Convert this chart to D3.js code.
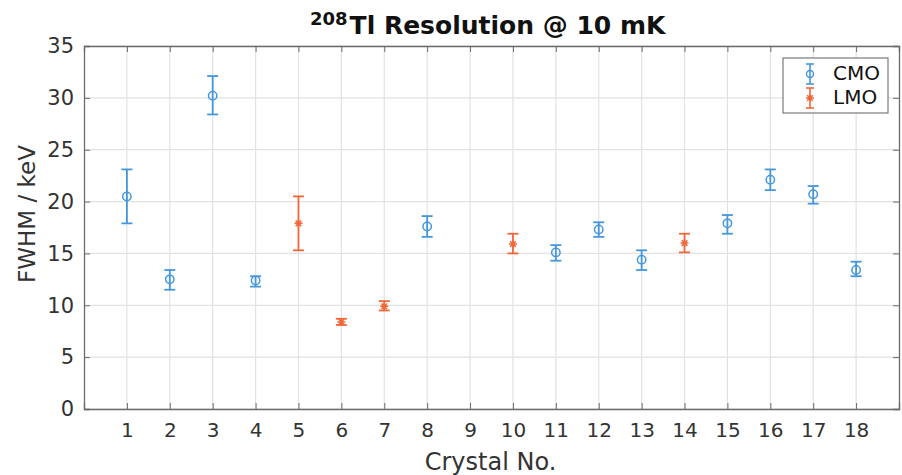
<!DOCTYPE html>
<html><head><meta charset="utf-8">
<script src="https://cdn.jsdelivr.net/npm/d3@7"></script>
<style>body{margin:0;background:#fff}text{font-family:"DejaVu Sans",sans-serif}</style>
</head><body><svg id="c" width="902" height="475"></svg>
<script>
const cmoCrystal = [1, 2, 3, 4, 8, 11, 12, 13, 15, 16, 17, 18];
const cmoFwhm    = [20.5, 12.5, 30.2, 12.4, 17.6, 15.1, 17.3, 14.4, 17.9, 22.1, 20.7, 13.4];
const cmoLow     = [17.9, 11.5, 28.4, 11.8, 16.6, 14.3, 16.6, 13.4, 16.9, 21.1, 19.8, 12.8];
const cmoHigh    = [23.1, 13.4, 32.1, 12.8, 18.6, 15.8, 18.0, 15.3, 18.7, 23.1, 21.5, 14.2];
const lmoCrystal = [5, 6, 7, 10, 14];
const lmoFwhm    = [17.9, 8.4, 9.9, 15.9, 16.0];
const lmoLow     = [15.3, 8.1, 9.5, 15.0, 15.1];
const lmoHigh    = [20.5, 8.7, 10.4, 16.9, 16.9];
const xTicks = d3.range(1, 19);
const yTicks = [0, 5, 10, 15, 20, 25, 30, 35];
const colCMO = "#4597dc", colLMO = "#f0683a";

const svg = d3.select("#c");
const L = 84, R = 899, T = 46, B = 409;
const x = d3.scaleLinear().domain([0, 19]).range([L, R]);
const y = d3.scaleLinear().domain([0, 35]).range([B, T]);

// grid
const g = svg.append("g");
g.selectAll(".gx").data(xTicks).enter().append("line")
  .attr("x1", d => x(d)).attr("x2", d => x(d)).attr("y1", T).attr("y2", B)
  .attr("stroke", "#e2e2e2").attr("stroke-width", 1.2);
g.selectAll(".gy").data(yTicks).enter().append("line")
  .attr("x1", L).attr("x2", R).attr("y1", d => y(d)).attr("y2", d => y(d))
  .attr("stroke", "#e2e2e2").attr("stroke-width", 1.2);

// axes
const axB = svg.append("g").attr("transform", `translate(0,${B})`)
  .call(d3.axisBottom(x).tickValues(xTicks).tickSize(-6).tickPadding(14).tickFormat(d3.format("d")));
const axL = svg.append("g").attr("transform", `translate(${L},0)`)
  .call(d3.axisLeft(y).tickValues(yTicks).tickSize(-6).tickPadding(10));
const axT = svg.append("g").attr("transform", `translate(0,${T})`)
  .call(d3.axisTop(x).tickValues(xTicks).tickSize(-6).tickFormat(""));
const axR = svg.append("g").attr("transform", `translate(${R},0)`)
  .call(d3.axisRight(y).tickValues(yTicks).tickSize(-6).tickFormat(""));
[axB, axL, axT, axR].forEach(a => {
  a.selectAll("path").attr("stroke", "#6b6b6b").attr("stroke-width", 1.3);
  a.selectAll("line").attr("stroke", "#6b6b6b");
  a.selectAll("text").attr("fill", "#333").style("font-size", "21px");
});
axB.selectAll("text").style("font-size", "20px");

// titles
svg.append("text").attr("x", 310).attr("y", 34).attr("text-anchor", "start")
  .style("font-size", "25px").style("font-weight", "bold").attr("fill", "#111")
  .call(t => {
    t.append("tspan").text("208").style("font-size", "18px").attr("dy", "-9");
    t.append("tspan").text("Tl Resolution @ 10 mK").attr("dy", "9").attr("dx", "2");
  });
svg.append("text").attr("x", (L + R) / 2 - 1).attr("y", 470).attr("text-anchor", "middle")
  .style("font-size", "24px").attr("fill", "#333").text("Crystal No.");
svg.append("text").attr("transform", `translate(35,214) rotate(-90)`)
  .attr("text-anchor", "middle").style("font-size", "23px").attr("fill", "#333").text("FWHM / keV");

function errbars(xs, vs, lo, hi, col) {
  const gg = svg.append("g").attr("stroke", col).attr("stroke-width", 1.8).attr("fill", "none");
  xs.forEach((c, i) => {
    gg.append("line").attr("x1", x(c)).attr("x2", x(c)).attr("y1", y(lo[i])).attr("y2", y(hi[i]));
    [lo[i], hi[i]].forEach(v => gg.append("line").attr("x1", x(c) - 5.5).attr("x2", x(c) + 5.5)
      .attr("y1", y(v)).attr("y2", y(v)));
  });
  return gg;
}
const gc = errbars(cmoCrystal, cmoFwhm, cmoLow, cmoHigh, colCMO);
cmoCrystal.forEach((c, i) => gc.append("circle").attr("cx", x(c)).attr("cy", y(cmoFwhm[i])).attr("r", 4.2).attr("stroke-width", 1.5));
const gl = errbars(lmoCrystal, lmoFwhm, lmoLow, lmoHigh, colLMO);
const star = (gg, cx, cy) => {
  const s = 4;
  gg.append("path").attr("stroke-width", 1.5)
    .attr("d", `M${cx - s},${cy}H${cx + s}M${cx},${cy - s}V${cy + s}M${cx - s * .7},${cy - s * .7}L${cx + s * .7},${cy + s * .7}M${cx - s * .7},${cy + s * .7}L${cx + s * .7},${cy - s * .7}`);
};
lmoCrystal.forEach((c, i) => star(gl, x(c), y(lmoFwhm[i])));

// legend
const lg = svg.append("g");
lg.append("rect").attr("x", 783).attr("y", 58).attr("width", 105).attr("height", 55)
  .attr("fill", "#fff").attr("stroke", "#7a7a7a").attr("stroke-width", 1.2);
const legendItems = [["CMO", colCMO, 74], ["LMO", colLMO, 98]];
legendItems.forEach(([name, col, yy]) => {
  const gi = lg.append("g").attr("stroke", col).attr("stroke-width", 1.6).attr("fill", "none");
  const lx = 810;
  gi.append("line").attr("x1", lx).attr("x2", lx).attr("y1", yy - 10).attr("y2", yy + 10);
  gi.append("line").attr("x1", lx - 4).attr("x2", lx + 4).attr("y1", yy - 10).attr("y2", yy - 10);
  gi.append("line").attr("x1", lx - 4).attr("x2", lx + 4).attr("y1", yy + 10).attr("y2", yy + 10);
  if (name === "CMO") gi.append("circle").attr("cx", lx).attr("cy", yy).attr("r", 3.5).attr("stroke-width", 1.4);
  else star(gi, lx, yy);
  lg.append("text").attr("x", 833).attr("y", yy + 6).style("font-size", "20px").attr("fill", "#111").text(name);
});
</script></body></html>
